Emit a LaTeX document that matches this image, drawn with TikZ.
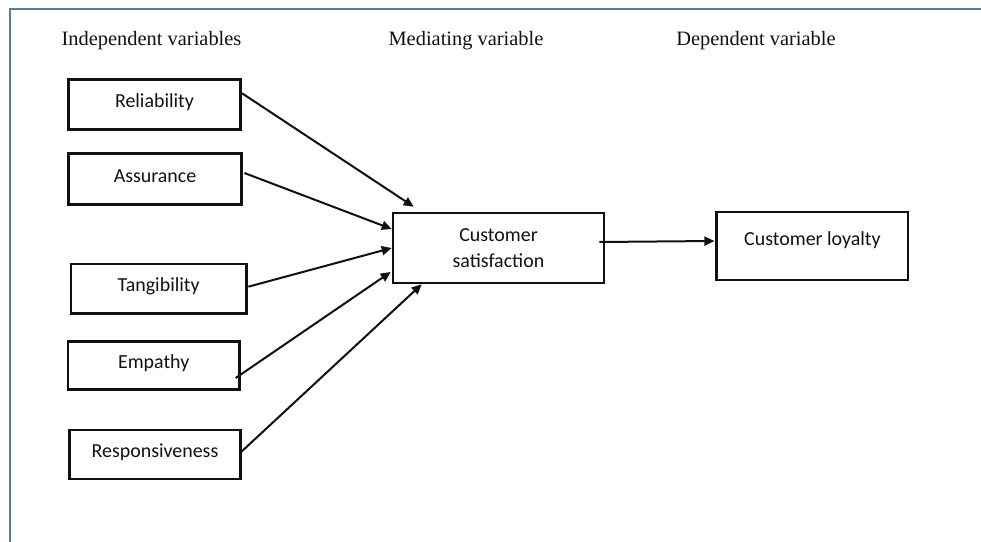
\documentclass[tikz,border=0pt]{standalone}
\usepackage{fontspec}
\setmainfont{Liberation Serif}
\newfontfamily\boxfont{Carlito}
\usetikzlibrary{arrows.meta,calc}
\definecolor{framecol}{HTML}{5A7A9E}
\definecolor{inkcol}{HTML}{111111}
\begin{document}
\begin{tikzpicture}[x=1bp,y=-1bp,
  varbox/.style={draw=inkcol, line width=2.6bp, inner sep=0pt, text=inkcol,
    font=\boxfont\fontsize{20}{25.5}\selectfont},
  onebox/.style={varbox, text height=14bp, text depth=7.5bp},
  heading/.style={anchor=base, inner sep=0pt, text=inkcol,
    font=\fontsize{20.5}{24}\selectfont},
  arr/.style={draw=inkcol, line width=2bp, -{Triangle[length=10bp,width=9bp]}}]
\useasboundingbox (0,0) rectangle (981,542);
\fill[white] (0,0) rectangle (981,542);
\draw[framecol, line width=1.3bp] (981,9) -- (10,9) -- (10,542);
% headings
\node[heading] (hind) at (151.5,46) {Independent variables};
\node[heading] (hmed) at (466,46) {Mediating variable};
\node[heading] (hdep) at (756,46) {Dependent variable};
% independent variables
\node[onebox, minimum width=172.5bp, minimum height=50bp] (rel) at (154.5,104.3) {Reliability};
\node[onebox, minimum width=173.5bp, minimum height=51bp] (ass) at (155,178.8) {Assurance};
\node[onebox, minimum width=175.5bp, minimum height=49.5bp] (tan) at (158.7,288.7) {Tangibility};
\node[onebox, minimum width=171.3bp, minimum height=47.7bp] (emp) at (153.7,365.5) {Empathy};
\node[onebox, minimum width=171.4bp, minimum height=49bp] (res) at (155,454.5) {Responsiveness};
% mediating and dependent
\node[varbox, align=center, minimum width=211bp, minimum height=70bp] (cs) at (498.5,248) {Customer\\satisfaction};
\node[varbox, text height=14bp, text depth=15.7bp, minimum width=191.3bp, minimum height=68.3bp] (cl) at (812.4,246) {Customer loyalty};
% connectors
\draw[arr] ($(rel.east)+(0,-11)$) -- ($(cs.north west)+(22,-5)$);
\draw[arr] ($(ass.east)+(1.3,-5.8)$) -- ($(cs.west)+(0,-19)$);
\draw[arr] ($(tan.east)+(0.6,-2)$) -- (cs.west);
\draw[arr] ($(emp.east)+(-5,12.5)$) -- ($(cs.west)+(-1,24)$);
\draw[arr] ($(res.east)+(-2,-1.5)$) -- ($(cs.south west)+(30,0)$);
\draw[arr] ($(cs.east)+(-6,-6)$) -- ($(cl.west)+(-1,-5)$);
\end{tikzpicture}
\end{document}
